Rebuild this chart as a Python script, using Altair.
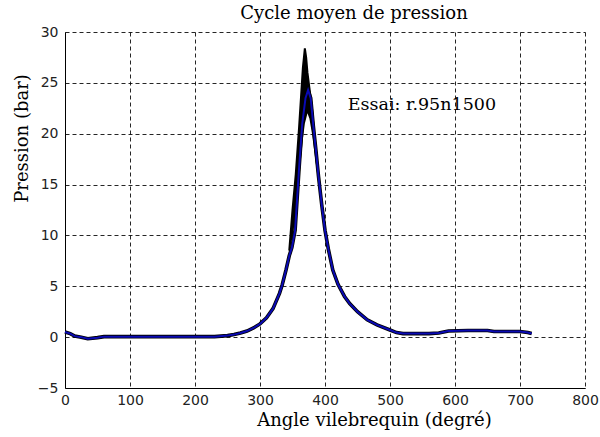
import altair as alt
import pandas as pd

# Mean pressure cycle
angle = [0, 8, 15, 25, 35, 50, 60, 100, 150, 200, 230, 250, 260, 270, 280, 290,
         300, 310, 320, 330, 334, 340, 345, 349, 354, 360, 365, 370, 374, 378, 382,
         386, 390, 395, 400, 405, 412, 420, 430, 438, 450, 465, 480, 500, 510, 520,
         560, 575, 590, 620, 650, 660, 700, 712, 718]
pressure = [0.5, 0.35, 0.1, 0.0, -0.15, -0.05, 0.05, 0.05, 0.05, 0.05, 0.05, 0.15, 0.25, 0.4, 0.6, 0.9,
            1.3, 1.9, 2.8, 4.3, 5.1, 6.6, 8.0, 8.8, 10.5, 16.5, 21.0, 23.5, 24.3, 23.5, 20.8,
            18.4, 15.8, 13.0, 10.5, 8.7, 6.6, 5.2, 4.0, 3.3, 2.5, 1.7, 1.2, 0.7, 0.45, 0.35,
            0.35, 0.4, 0.6, 0.65, 0.65, 0.55, 0.55, 0.45, 0.35]

# Envelope of the individual cycles around the peak (black)
env_angle = [345, 350, 355, 360, 363, 366, 369, 371, 373, 376, 380, 384, 388]
env_low = [8.5, 9.8, 12.0, 15.0, 17.5, 19.5, 21.0, 21.5, 22.0, 21.5, 20.0, 18.0, 16.0]
env_high = [8.5, 12.5, 16.0, 20.5, 23.5, 26.5, 28.4, 27.5, 26.0, 24.5, 22.5, 19.5, 16.8]

label_text = ["Essai: r.95n1500"]
label_x = [435]
label_y = [22.8]

x_ticks = [0, 100, 200, 300, 400, 500, 600, 700, 800]
y_ticks = [-5, 0, 5, 10, 15, 20, 25, 30]

mean_df = pd.DataFrame({"angle": angle, "p": pressure})
env_df = pd.DataFrame({"angle": env_angle, "lo": env_low, "hi": env_high})
lab_df = pd.DataFrame({"t": label_text, "x": label_x, "y": label_y})

xscale = alt.Scale(domain=[0, 800], nice=False)
yscale = alt.Scale(domain=[-5, 30], nice=False)

xaxis = alt.Axis(values=x_ticks, title="Angle vilebrequin (degré)", grid=True,
                 titleX=309, titleY=37, titleBaseline="alphabetic", labelPadding=5)
yaxis = alt.Axis(values=y_ticks, title="Pression (bar)", grid=True,
                 titleX=-43, titleY=106, titleAngle=270, titleBaseline="middle",
                 titleAlign="center")

area = alt.Chart(env_df).mark_area(color="black", opacity=1).encode(
    x=alt.X("angle:Q", scale=xscale, axis=xaxis),
    y=alt.Y("hi:Q", scale=yscale, axis=yaxis),
    y2="lo:Q",
)
env_line = alt.Chart(env_df).mark_line(color="black", strokeWidth=2).encode(
    x=alt.X("angle:Q", scale=xscale), y=alt.Y("hi:Q", scale=yscale))
black_line = alt.Chart(mean_df).mark_line(color="black", strokeWidth=3.6).encode(
    x=alt.X("angle:Q", scale=xscale), y=alt.Y("p:Q", scale=yscale))
blue_line = alt.Chart(mean_df).mark_line(color="#0a0ab4", strokeWidth=2).encode(
    x=alt.X("angle:Q", scale=xscale), y=alt.Y("p:Q", scale=yscale))
text = alt.Chart(lab_df).mark_text(font="DejaVu Serif", fontSize=17.5, align="left",
                                   baseline="middle", color="black").encode(
    x=alt.X("x:Q", scale=xscale), y=alt.Y("y:Q", scale=yscale), text="t:N")

chart = alt.layer(area, env_line, black_line, blue_line, text).properties(
    width=520, height=356,
    background="white",
    title=alt.TitleParams("Cycle moyen de pression", font="DejaVu Serif", fontSize=18,
                          fontWeight="normal", color="black", anchor="middle", dx=29,
                          offset=8, dy=6),
    autosize=alt.AutoSizeParams(type="none"),
    padding={"left": 65, "top": 32, "right": 15, "bottom": 49},
).configure_view(stroke=None).configure_axis(
    domainColor="black", domainWidth=1, gridColor="black", gridDash=[4, 3], gridWidth=1,
    gridOpacity=0.85, tickSize=0, labelFont="DejaVu Sans", labelFontSize=14,
    labelColor="#222", labelPadding=7, labelFlush=False, titleFont="DejaVu Serif",
    titleFontSize=18, titleFontWeight="normal", titleColor="black",
)

chart.save("out.html", embed_options={"renderer": "svg", "actions": False})
